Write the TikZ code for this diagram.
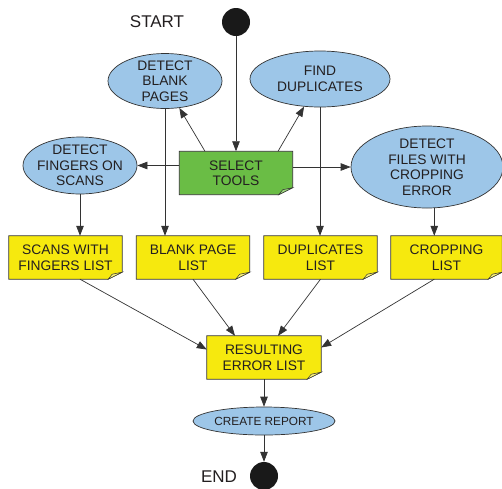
\documentclass[tikz,border=0pt]{standalone}
\usepackage{fontspec}
\setmainfont{Liberation Sans}
\usetikzlibrary{shapes.geometric,arrows.meta,backgrounds}
\definecolor{ebl}{HTML}{9DC6E8}
\definecolor{ngreen}{HTML}{6ABD45}
\definecolor{ngreenl}{HTML}{9ED77F}
\definecolor{nyel}{HTML}{F6E90E}
\definecolor{nyell}{HTML}{FBF27A}
\definecolor{txt}{HTML}{231F20}
\definecolor{lin}{HTML}{333333}
\newcommand{\notebg}[3]{%
  \fill[#2, draw=lin, line width=0.7pt] (#1.north west) -- (#1.north east) -- ([yshift=7pt]#1.south east) -- ([xshift=-14pt]#1.south east) -- (#1.south west) -- cycle;
  \fill[#3, draw=lin, line width=0.5pt] ([xshift=-14pt]#1.south east) -- ([xshift=-10pt,yshift=5pt]#1.south east) -- ([yshift=7pt]#1.south east) -- cycle;}
\begin{document}
\begin{tikzpicture}[x=1pt,y=-1pt,
  every node/.style={text=txt, font=\fontsize{13.8}{15.5}\selectfont, align=center, inner sep=0pt},
  oval/.style={ellipse, draw=lin, fill=ebl, line width=0.7pt},
  notebox/.style={minimum width=113pt, minimum height=43pt},
  dot/.style={circle, fill=black!90, minimum size=28pt},
  arr/.style={draw=lin, line width=0.7pt, -{Triangle[length=10pt,width=7.5pt]}},
  ln/.style={draw=lin, line width=0.7pt}]
\useasboundingbox (0,0) rectangle (502,488);
% start / end
\node[dot] (start) at (236,22) {};
\node[font=\fontsize{17}{19}\selectfont] (starttxt) at (157,22) {START};
\node[dot] (endc) at (264,476) {};
\node[font=\fontsize{17}{19}\selectfont] (endtxt) at (219,477) {END};
% ellipses
\node[oval, minimum width=114pt, minimum height=55pt, label={[align=center]center:DETECT\\BLANK\\PAGES}] (blank) at (165,81) {};
\node[oval, minimum width=140pt, minimum height=56pt, label={[align=center]center:FIND\\DUPLICATES}] (dup) at (320,79) {};
\node[oval, minimum width=114pt, minimum height=57pt, label={[align=center]center:DETECT\\FINGERS ON\\SCANS}] (fingers) at (80,165.5) {};
\node[oval, minimum width=152pt, minimum height=82pt, label={[align=center]center:DETECT\\FILES WITH\\CROPPING\\ERROR}] (crop) at (427,167) {};
\node[oval, minimum width=142pt, minimum height=28pt, font=\fontsize{11.8}{13}\selectfont] (report) at (264,421) {CREATE REPORT};
% notes
\node[notebox] (select) at (236,173) {SELECT\\TOOLS};
\node[notebox] (scans) at (65.5,257.5) {SCANS WITH\\FINGERS LIST};
\node[notebox] (blanklist) at (193,257.5) {BLANK PAGE\\LIST};
\node[notebox] (duplist) at (320.5,257.5) {DUPLICATES\\LIST};
\node[notebox, minimum width=111pt] (croplist) at (446.5,257.5) {CROPPING\\LIST};
\node[notebox, minimum width=114pt] (result) at (264,357.5) {RESULTING\\ERROR LIST};
\begin{scope}[on background layer]
  \notebg{select}{ngreen}{ngreenl}
  \notebg{scans}{nyel}{nyell}
  \notebg{blanklist}{nyel}{nyell}
  \notebg{duplist}{nyel}{nyell}
  \notebg{croplist}{nyel}{nyell}
  \notebg{result}{nyel}{nyell}
\end{scope}
% connectors
\draw[arr] (start) -- (select);
\draw[arr] ([xshift=-31pt]select.north) -- (blank.-62);
\draw[arr] ([xshift=42pt]select.north) -- (dup.-120);
\draw[arr] (select.west |- fingers.east) -- (fingers.east);
\draw[arr] (select.east |- crop.west) -- (crop.west);
\draw[arr] (fingers.south) -- (fingers.south |- scans.north);
\draw[arr] (blank.south) -- (blank.south |- blanklist.north);
\draw[arr] (dup.south) -- (dup.south |- duplist.north);
\draw[arr] (crop.-80) -- (crop.-80 |- croplist.north);
\draw[arr] (fingers.south |- scans.south) -- ([yshift=8pt]result.west);
\draw[arr] (blanklist.south) -- ([xshift=-29pt]result.north);
\draw[arr] (duplist.south) -- ([xshift=14pt]result.north);
\draw[arr] (crop.-80 |- croplist.south) -- ([yshift=10pt]result.east);
\draw[arr] (result) -- (report);
\draw[arr] (report) -- (endc);
\end{tikzpicture}
\end{document}
